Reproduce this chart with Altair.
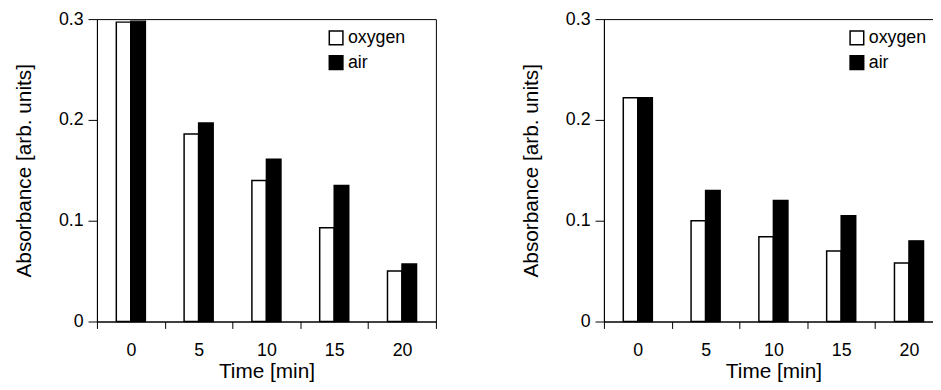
import altair as alt
import pandas as pd

times = ["0", "5", "10", "15", "20"]
series = ["oxygen", "air"]

left_oxygen = [0.297, 0.186, 0.140, 0.093, 0.050]
left_air = [0.298, 0.197, 0.161, 0.135, 0.057]

right_oxygen = [0.222, 0.100, 0.084, 0.070, 0.058]
right_air = [0.222, 0.130, 0.120, 0.105, 0.080]

y_ticks = [0, 0.1, 0.2, 0.3]

FONT = "Liberation Sans"
BAR_W = 14.7


def make_df(oxy, air):
    rows = []
    for t, o, a in zip(times, oxy, air):
        rows.append({"time": t, "series": "oxygen", "value": o})
        rows.append({"time": t, "series": "air", "value": a})
    return pd.DataFrame(rows)


def panel(df, legend_x):
    base = alt.Chart(df).encode(
        x=alt.X(
            "time:O",
            sort=times,
            scale=alt.Scale(paddingInner=0, paddingOuter=0),
            axis=alt.Axis(
                title="Time [min]",
                labelAngle=0,
                tickBand="extent",
                tickSize=7,
                labelPadding=13,
                titlePadding=2,
            ),
        ),
        y=alt.Y(
            "value:Q",
            scale=alt.Scale(domain=[0, 0.3], nice=False),
            axis=alt.Axis(
                title="Absorbance [arb. units]",
                values=y_ticks,
                labelExpr="datum.value == 0 ? '0' : format(datum.value, '.1f')",
                tickSize=9,
                labelPadding=5,
                titlePadding=24,
                grid=False,
            ),
        ),
        fill=alt.Fill(
            "series:N",
            sort=series,
            scale=alt.Scale(domain=series, range=["white", "black"]),
            legend=alt.Legend(
                title=None,
                orient="none",
                legendX=legend_x,
                legendY=10,
                symbolType="square",
                symbolSize=190,
                symbolStrokeColor="black",
                symbolStrokeWidth=1.5,
                labelFontSize=18,
                labelFont=FONT,
                labelColor="black",
                labelOffset=3,
                rowPadding=5,
                padding=0,
            ),
        ),
    )
    oxy = base.transform_filter(alt.datum.series == "oxygen").mark_bar(
        stroke="black", strokeWidth=1.5, width=BAR_W, xOffset=-BAR_W / 2
    )
    air = base.transform_filter(alt.datum.series == "air").mark_bar(
        stroke="black", strokeWidth=1.5, width=BAR_W, xOffset=BAR_W / 2
    )
    return alt.layer(oxy, air).properties(width=343, height=306)


left = panel(make_df(left_oxygen, left_air), 233)
right = panel(make_df(right_oxygen, right_air), 247)

chart = alt.hconcat(left, right, spacing=84).resolve_legend(
    fill="independent"
).resolve_scale(fill="independent").properties(
    padding={"left": 5, "top": -1, "right": -11, "bottom": 0},
    background="white",
).configure_view(
    stroke="black", strokeWidth=1
).configure_axis(
    labelFont=FONT,
    titleFont=FONT,
    labelFontSize=18,
    titleFontSize=21,
    titleFontWeight="normal",
    labelColor="black",
    titleColor="black",
    domainColor="black",
    tickColor="black",
    domainWidth=1,
    tickWidth=1,
)

chart.save("out.html", embed_options={"renderer": "svg", "actions": False})
